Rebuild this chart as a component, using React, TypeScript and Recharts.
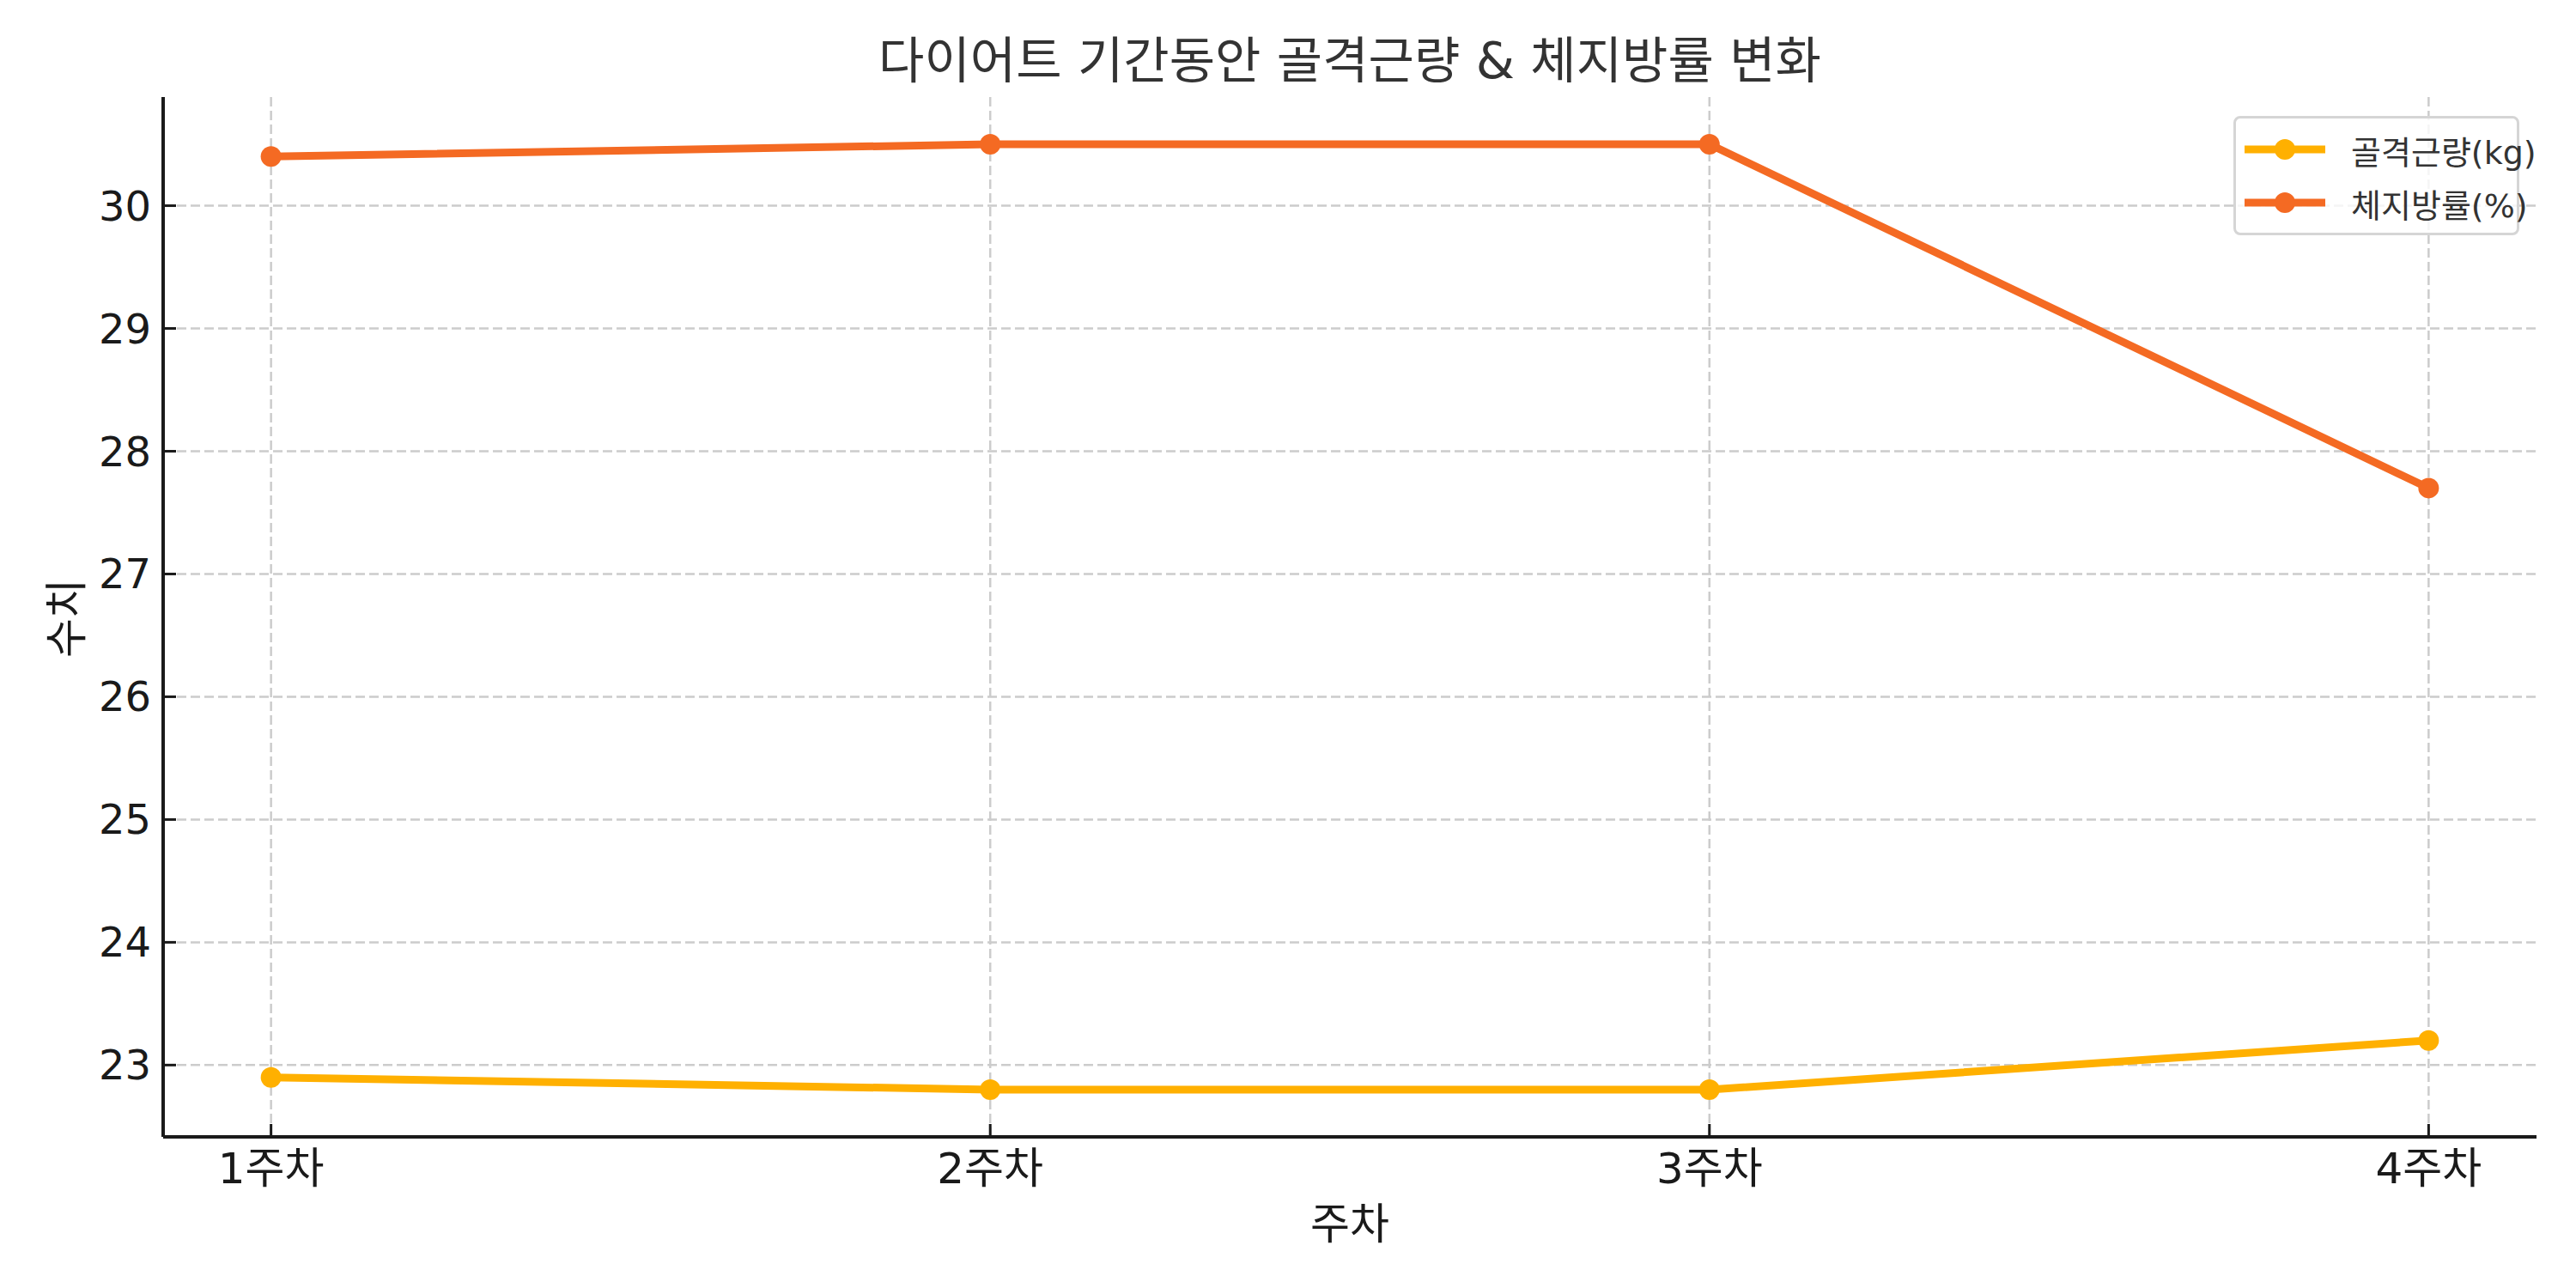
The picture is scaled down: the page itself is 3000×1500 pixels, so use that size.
import React from "react";
import { CartesianGrid, Line, LineChart, XAxis, YAxis } from "recharts";

const weeks = ["1주차", "2주차", "3주차", "4주차"];
const muscleKg = [22.9, 22.8, 22.8, 23.2];
const fatPct = [30.4, 30.5, 30.5, 27.7];
const yTicks = [23, 24, 25, 26, 27, 28, 29, 30];

const series = [
  { key: "muscle", label: "골격근량(kg)", color: "#FFB000" },
  { key: "fat", label: "체지방률(%)", color: "#F46A23" },
];

const data = weeks.map((w, i) => ({
  x: i + 1,
  week: w,
  muscle: muscleKg[i],
  fat: fatPct[i],
}));

const FONT = "'DejaVu Sans', 'Noto Sans CJK KR', sans-serif";

const LegendBox = () => (
  <div
    style={{
      position: "absolute",
      left: 2601,
      top: 135,
      width: 333,
      height: 139,
      boxSizing: "border-box",
      border: "3px solid #d5d5d5",
      borderRadius: 8,
      background: "rgba(255,255,255,0.8)",
      fontFamily: FONT,
      fontSize: 38,
      color: "#333",
      padding: "5px 0 0 10px",
      whiteSpace: "nowrap",
    }}
  >
    {series.map((s) => (
      <div
        key={s.key}
        style={{ display: "flex", alignItems: "center", height: 62 }}
      >
        <svg width={94} height={30} style={{ marginRight: 30, flexShrink: 0 }}>
          <line x1={0} y1={15} x2={94} y2={15} stroke={s.color} strokeWidth={9} />
          <circle cx={47} cy={15} r={12} fill={s.color} />
        </svg>
        <span>{s.label}</span>
      </div>
    ))}
  </div>
);

export default function App() {
  return (
    <div
      style={{
        position: "absolute",
        left: 0,
        top: 0,
        width: 3000,
        height: 1500,
        background: "#fff",
        fontFamily: FONT,
      }}
    >
      <div
        style={{
          position: "absolute",
          top: 36,
          left: 190,
          width: 2764,
          textAlign: "center",
          fontSize: 58,
          color: "#333",
          lineHeight: "70px",
        }}
      >
        다이어트 기간동안 골격근량 &amp; 체지방률 변화
      </div>
      <div
        style={{
          position: "absolute",
          top: 1396,
          left: 190,
          width: 2764,
          textAlign: "center",
          fontSize: 50,
          color: "#1a1a1a",
          lineHeight: "60px",
        }}
      >
        주차
      </div>
      <div
        style={{
          position: "absolute",
          left: 73,
          top: 720,
          transform: "translate(-50%, -50%) rotate(-90deg)",
          fontSize: 50,
          color: "#1a1a1a",
          whiteSpace: "nowrap",
        }}
      >
        수치
      </div>
      <LineChart
        width={3000}
        height={1500}
        data={data}
        margin={{ top: 113, right: 46, bottom: 0, left: 90 }}
      >
        <CartesianGrid
          stroke="#cccccc"
          strokeWidth={2.5}
          strokeDasharray="11 5"
          verticalValues={[1, 2, 3, 4]}
          horizontalValues={yTicks}
        />
        <XAxis
          dataKey="x"
          type="number"
          domain={[0.85, 4.15]}
          ticks={[1, 2, 3, 4]}
          tickFormatter={(v: number) => weeks[v - 1]}
          height={176}
          axisLine={{ stroke: "#1a1a1a", strokeWidth: 4 }}
          tickLine={{ stroke: "#1a1a1a", strokeWidth: 3 }}
          tickSize={-15}
          tickMargin={33}
          tick={{ fill: "#1a1a1a", fontSize: 50, fontFamily: FONT }}
          allowDataOverflow
        />
        <YAxis
          type="number"
          domain={[22.415, 30.885]}
          ticks={yTicks}
          width={100}
          axisLine={{ stroke: "#1a1a1a", strokeWidth: 4 }}
          tickLine={{ stroke: "#1a1a1a", strokeWidth: 3 }}
          tickSize={-15}
          tickMargin={29}
          tick={{ fill: "#1a1a1a", fontSize: 48, fontFamily: FONT }}
          allowDataOverflow
        />
        {series.map((s) => (
          <Line
            key={s.key}
            type="linear"
            dataKey={s.key}
            name={s.label}
            stroke={s.color}
            strokeWidth={9}
            dot={{ r: 12, fill: s.color, stroke: s.color, strokeWidth: 0 }}
            activeDot={false}
            isAnimationActive={false}
          />
        ))}
      </LineChart>
      <LegendBox />
    </div>
  );
}
